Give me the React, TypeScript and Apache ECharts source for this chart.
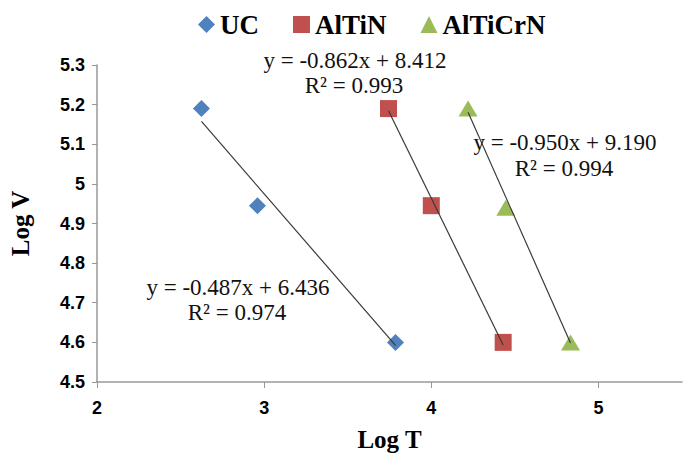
import React, { useEffect, useRef } from "react";
import * as echarts from "echarts";

const seriesNames = ["UC", "AlTiN", "AlTiCrN"];
const seriesColors = ["#4F81BD", "#C0504D", "#9BBB59"];
const seriesSymbols = ["diamond", "rect", "triangle"];

const ucX = [2.625, 2.96, 3.786];
const ucY = [5.19, 4.945, 4.6];
const alTiNX = [3.744, 4.0, 4.43];
const alTiNY = [5.19, 4.945, 4.6];
const alTiCrNX = [4.22, 4.446, 4.833];
const alTiCrNY = [5.19, 4.94, 4.6];

const slopes = [-0.487, -0.862, -0.95];
const intercepts = [6.436, 8.412, 9.19];
const r2Values = ["0.974", "0.993", "0.994"];

const xTicks = [2, 3, 4, 5];

const serif = "'Liberation Serif', 'Times New Roman', serif";
const sans = "'Liberation Sans', Arial, sans-serif";

export default function App() {
  const ref = useRef<HTMLDivElement>(null);
  useEffect(() => {
    if (!ref.current) return;
    const chart = echarts.init(ref.current, undefined, { renderer: "svg" });
    const xs = [ucX, alTiNX, alTiCrNX];
    const ys = [ucY, alTiNY, alTiCrNY];

    const scatter = seriesNames.map((name, i) => ({
      name,
      type: "scatter",
      symbol: seriesSymbols[i],
      symbolSize: i === 2 ? [19, 16] : [17, 17],
      itemStyle: { color: seriesColors[i], opacity: 1 },
      data: xs[i].map((x, j) => [x, ys[i][j]]),
      z: 3,
    }));
    const trends = seriesNames.map((name, i) => {
      const x0 = Math.min(...xs[i]);
      const x1 = Math.max(...xs[i]);
      return {
        name: name + " trend",
        type: "line",
        symbol: "none",
        lineStyle: { color: "#3A3A3A", width: 1.2 },
        data: [
          [x0, slopes[i] * x0 + intercepts[i]],
          [x1, slopes[i] * x1 + intercepts[i]],
        ],
        z: 4,
      };
    });

    const eq = (i: number) =>
      `y = ${slopes[i].toFixed(3)}x + ${intercepts[i].toFixed(3)}`;
    const r2 = (i: number) => `R² = ${r2Values[i]}`;
    const labelPos = [
      [[238, 287], [237, 312]],
      [[355, 60], [354, 85]],
      [[565, 142], [564, 168]],
    ];
    const graphics: any[] = [];
    [0, 1, 2].forEach((i) => {
      [eq(i), r2(i)].forEach((t, k) => {
        graphics.push({
          type: "text",
          x: labelPos[i][k][0],
          y: labelPos[i][k][1],
          z: 10,
          style: {
            text: t,
            fill: "#111",
            font: `23px ${serif}`,
            textAlign: "center",
            textVerticalAlign: "middle",
          },
        });
      });
    });

    chart.setOption({
      animation: false,
      grid: { left: 94, right: 3, top: 65, bottom: 81, containLabel: false },
      legend: {
        left: 193,
        top: 6,
        itemWidth: 17,
        itemHeight: 17,
        itemGap: 34,
        textStyle: {
          fontFamily: serif,
          fontWeight: "bold",
          fontSize: 27,
          color: "#000",
        },
        data: seriesNames.map((n, i) => ({ name: n, icon: seriesSymbols[i] })),
      },
      xAxis: {
        type: "value",
        min: 2,
        max: 5.5,
        interval: 1,
        name: "Log T",
        nameLocation: "middle",
        nameGap: 45,
        nameTextStyle: {
          fontFamily: serif,
          fontWeight: "bold",
          fontSize: 25,
          color: "#000",
          verticalAlign: "top",
        },
        splitLine: { show: false },
        axisLine: { lineStyle: { color: "#999999", width: 1.5 } },
        axisTick: {
          length: 6,
          lineStyle: { color: "#999999" },
          customValues: xTicks,
        },
        axisLabel: {
          customValues: xTicks,
          margin: 17,
          fontFamily: sans,
          fontWeight: "bold",
          fontSize: 18,
          color: "#000",
        },
      },
      yAxis: {
        type: "value",
        min: 4.5,
        max: 5.3,
        interval: 0.1,
        name: "Log V",
        nameLocation: "middle",
        nameGap: 64,
        nameTextStyle: {
          fontFamily: serif,
          fontWeight: "bold",
          fontSize: 25,
          color: "#000",
        },
        splitLine: { show: false },
        axisLine: { show: true, lineStyle: { color: "#999999", width: 1.5 } },
        axisTick: { show: true, length: 5, lineStyle: { color: "#999999" } },
        axisLabel: {
          margin: 12,
          fontFamily: sans,
          fontWeight: "bold",
          fontSize: 18,
          color: "#000",
          formatter: (v: number) => String(Math.round(v * 10) / 10),
        },
      },
      graphic: graphics,
      series: [...trends, ...scatter],
    });
    return () => chart.dispose();
  }, []);
  return (
    <div
      ref={ref}
      style={{ position: "absolute", left: 0, top: 0, width: 685, height: 463 }}
    />
  );
}
